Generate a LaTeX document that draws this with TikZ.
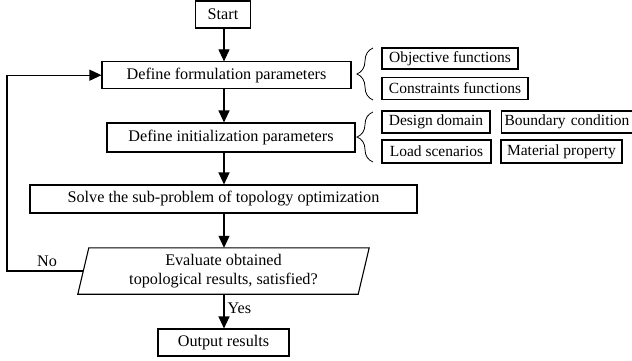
\documentclass[tikz,border=0pt]{standalone}
\usepackage{fontspec}
\setmainfont{Liberation Serif}
\usetikzlibrary{arrows.meta,calc,decorations.pathreplacing}
\begin{document}
\begin{tikzpicture}[x=1pt,y=-1pt,
  font=\fontsize{16.2}{19}\selectfont,
  box/.style={draw,line width=1.1pt,inner sep=0pt,align=center},
  side/.style={box,font=\fontsize{15.5}{18}\selectfont},
  arr/.style={line width=1.1pt,-{Triangle[width=11pt,length=12pt]}},
  ln/.style={line width=1.1pt},
  br/.style={line width=0.8pt,decorate,decoration={brace,amplitude=16pt}}]
\useasboundingbox (0,0) rectangle (632,361);
\coordinate (ax) at (224,0);
\coordinate (lx) at (7,0);
% main column
\node[box,minimum width=55,minimum height=27] (start) at (223,14.5) {Start};
\node[box,minimum width=249,minimum height=26.5] (form) at (226.5,75.2) {Define formulation parameters};
\node[box,minimum width=248,minimum height=29] (init) at (231,137.5) {Define initialization parameters};
\node[box,minimum width=387,minimum height=28] (solve) at (223.5,199) {Solve the sub-problem of topology optimization};
\node[inner sep=0pt,minimum width=291,minimum height=46,align=center] (eval) at (223.5,271) {Evaluate obtained\\topological results, satisfied?};
\coordinate (e1) at ($(eval.north west)+(11,0)$);
\coordinate (e2) at (eval.north east);
\coordinate (e3) at ($(eval.south east)+(-11,0)$);
\coordinate (e4) at (eval.south west);
\coordinate (el) at ($(eval.west)+(5.5,0)$);
\draw[ln] (e1) -- (e2) -- (e3) -- (e4) -- cycle;
\node[box,minimum width=131,minimum height=27] (out) at (223.5,342.5) {Output results};
% side boxes
\node[side,minimum width=136,minimum height=21] (obj) at (450,58.5) {Objective functions};
\node[side,minimum width=146,minimum height=22] (con) at (455,88.5) {Constraints functions};
\node[side,minimum width=108,minimum height=22] (des) at (436,122) {Design domain};
\node[side,anchor=west,inner xsep=3pt,minimum height=22,text width=142pt,align=left] (bnd) at (501,122) {Boundary condition};
\node[side,minimum width=109,minimum height=23] (load) at (436.5,151.5) {Load scenarios};
\node[side,minimum width=121,minimum height=23] (mat) at (561.5,151.5) {Material property};
% braces
\draw[br] (373,100) -- (373,48);
\draw[br] (373,162) -- (373,112);
% connectors
\draw[arr] (start.south -| ax) -- (form.north -| ax);
\draw[arr] (form.south -| ax) -- (init.north -| ax);
\draw[arr] (init.south -| ax) -- (solve.north -| ax);
\draw[arr] (solve.south -| ax) -- (eval.north -| ax);
\draw[arr] (eval.south -| ax) -- node[right,inner sep=3pt,pos=0.4] {Yes} (out.north -| ax);
\draw[arr] (el) -- (el -| lx) |- (form.west);
\node at (47,261) (no) {No};
\end{tikzpicture}
\end{document}
